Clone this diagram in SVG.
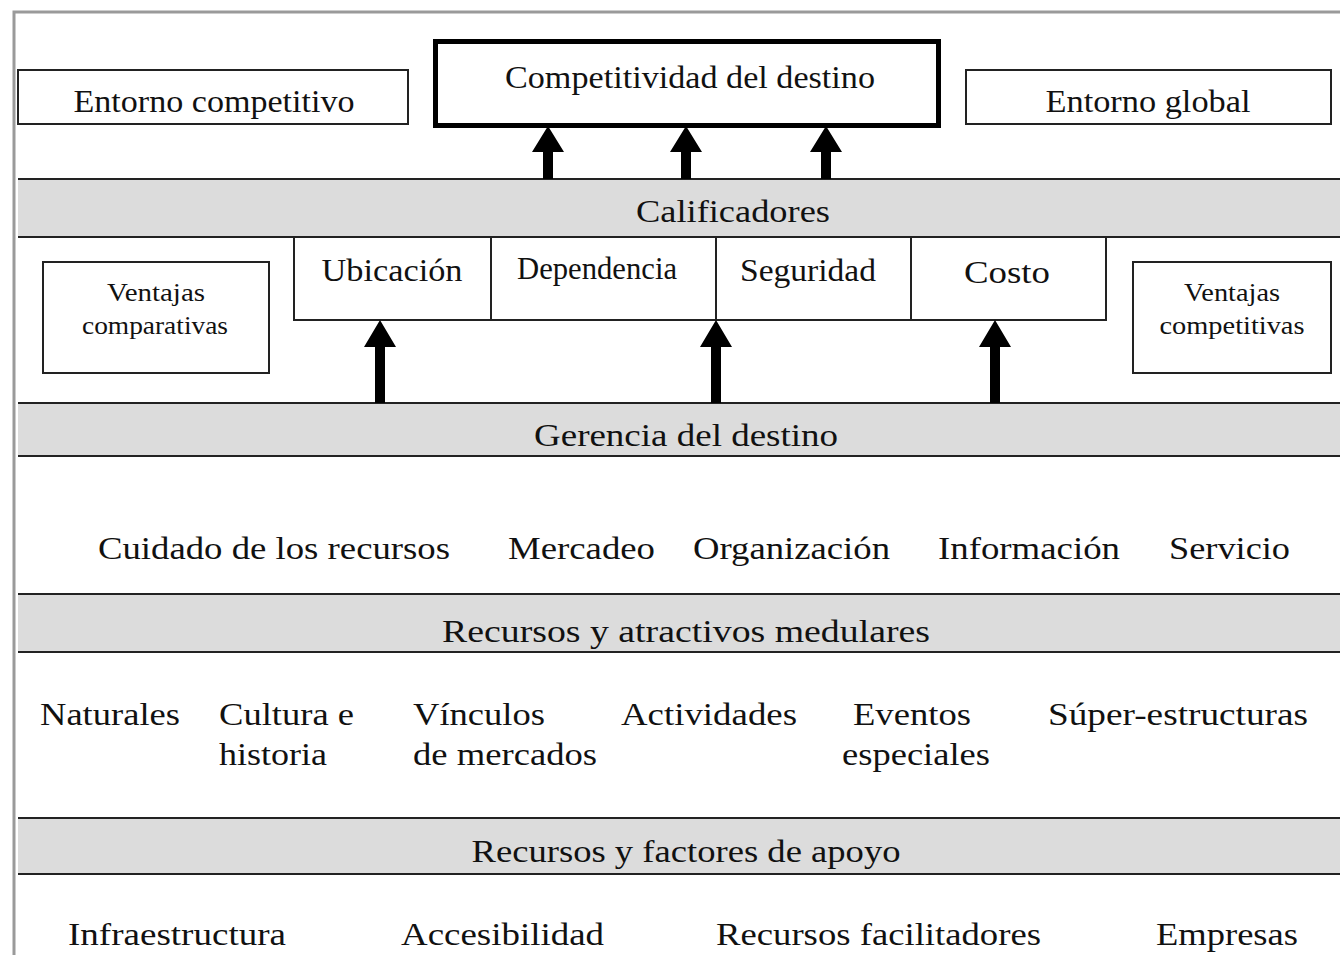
<svg xmlns="http://www.w3.org/2000/svg" width="1340" height="955" viewBox="0 0 1340 955">
<style>
  text { font-family: "Liberation Serif", "Times New Roman", serif; fill: #111; }
  .t { font-size: 32px; }
  .s { font-size: 25px; }
  .box { fill: #fff; stroke: #222; stroke-width: 2; }
  .band { fill: #dcdcdc; }
  .bl { stroke: #222; stroke-width: 2; fill: none; }
  .arrow { fill: #000; }
</style>
<defs>
  <path id="arr" d="M-5,0 V-55 H-16 L0,-83 L16,-55 H5 V0 Z"/>
</defs>
<rect width="1340" height="955" fill="#fff"/>
<!-- outer frame -->
<path d="M14,955 V12 H1340" fill="none" stroke="#9a9a9a" stroke-width="3"/>

<!-- bands -->
<g id="band-calificadores">
  <rect class="band" x="18" y="179" width="1322" height="58"/>
  <line class="bl" x1="18" y1="179" x2="1340" y2="179"/>
  <line class="bl" x1="18" y1="237" x2="1340" y2="237"/>
  <text class="t" x="733" y="222" text-anchor="middle" textLength="194" lengthAdjust="spacingAndGlyphs">Calificadores</text>
</g>
<g id="band-gerencia">
  <rect class="band" x="18" y="403" width="1322" height="53"/>
  <line class="bl" x1="18" y1="403" x2="1340" y2="403"/>
  <line class="bl" x1="18" y1="456" x2="1340" y2="456"/>
  <text class="t" x="686" y="446" text-anchor="middle" textLength="304" lengthAdjust="spacingAndGlyphs">Gerencia del destino</text>
</g>
<g id="band-medulares">
  <rect class="band" x="18" y="594" width="1322" height="58"/>
  <line class="bl" x1="18" y1="594" x2="1340" y2="594"/>
  <line class="bl" x1="18" y1="652" x2="1340" y2="652"/>
  <text class="t" x="686" y="642" text-anchor="middle" textLength="488" lengthAdjust="spacingAndGlyphs">Recursos  y atractivos medulares</text>
</g>
<g id="band-apoyo">
  <rect class="band" x="18" y="818" width="1322" height="56"/>
  <line class="bl" x1="18" y1="818" x2="1340" y2="818"/>
  <line class="bl" x1="18" y1="874" x2="1340" y2="874"/>
  <text class="t" x="686" y="862" text-anchor="middle" textLength="429" lengthAdjust="spacingAndGlyphs">Recursos y factores de apoyo</text>
</g>

<!-- top boxes -->
<g id="entorno-competitivo">
  <rect class="box" x="18" y="70" width="390" height="54"/>
  <text class="t" x="214" y="112" text-anchor="middle" textLength="281" lengthAdjust="spacingAndGlyphs">Entorno competitivo</text>
</g>
<g id="competitividad">
  <rect x="435.5" y="41.5" width="503" height="84" fill="#fff" stroke="#000" stroke-width="5"/>
  <text class="t" x="690" y="88" text-anchor="middle" textLength="370" lengthAdjust="spacingAndGlyphs">Competitividad del destino</text>
</g>
<g id="entorno-global">
  <rect class="box" x="966" y="70" width="365" height="54"/>
  <text class="t" x="1148" y="112" text-anchor="middle" textLength="205" lengthAdjust="spacingAndGlyphs">Entorno global</text>
</g>

<!-- qualifiers -->
<g id="ubicacion">
  <rect class="box" x="294" y="237" width="197" height="83"/>
  <text class="t" x="392" y="281" text-anchor="middle" textLength="141" lengthAdjust="spacingAndGlyphs">Ubicación</text>
</g>
<g id="dependencia">
  <rect class="box" x="491" y="237" width="225" height="83"/>
  <text class="t" x="597" y="279" text-anchor="middle" textLength="160" lengthAdjust="spacingAndGlyphs">Dependencia</text>
</g>
<g id="seguridad">
  <rect class="box" x="716" y="237" width="195" height="83"/>
  <text class="t" x="808" y="281" text-anchor="middle" textLength="136" lengthAdjust="spacingAndGlyphs">Seguridad</text>
</g>
<g id="costo">
  <rect class="box" x="911" y="237" width="195" height="83"/>
  <text class="t" x="1007" y="283" text-anchor="middle" textLength="86" lengthAdjust="spacingAndGlyphs">Costo</text>
</g>
<g id="ventajas-comparativas">
  <rect class="box" x="43" y="262" width="226" height="111"/>
  <text class="s" x="156" y="301" text-anchor="middle" textLength="98" lengthAdjust="spacingAndGlyphs">Ventajas</text>
  <text class="s" x="155" y="334" text-anchor="middle" textLength="146" lengthAdjust="spacingAndGlyphs">comparativas</text>
</g>
<g id="ventajas-competitivas">
  <rect class="box" x="1133" y="262" width="198" height="111"/>
  <text class="s" x="1232" y="301" text-anchor="middle" textLength="96" lengthAdjust="spacingAndGlyphs">Ventajas</text>
  <text class="s" x="1232" y="334" text-anchor="middle" textLength="145" lengthAdjust="spacingAndGlyphs">competitivas</text>
</g>

<!-- gerencia items -->
<g id="gerencia-items">
  <text class="t" x="98" y="559" textLength="352" lengthAdjust="spacingAndGlyphs">Cuidado de los recursos</text>
  <text class="t" x="508" y="559" textLength="147" lengthAdjust="spacingAndGlyphs">Mercadeo</text>
  <text class="t" x="693" y="559" textLength="197" lengthAdjust="spacingAndGlyphs">Organización</text>
  <text class="t" x="938" y="559" textLength="182" lengthAdjust="spacingAndGlyphs">Información</text>
  <text class="t" x="1169" y="559" textLength="121" lengthAdjust="spacingAndGlyphs">Servicio</text>
</g>

<!-- medulares items -->
<g id="medulares-items">
  <text class="t" x="40" y="725" textLength="140" lengthAdjust="spacingAndGlyphs">Naturales</text>
  <text class="t" x="219" y="725" textLength="135" lengthAdjust="spacingAndGlyphs">Cultura e</text>
  <text class="t" x="219" y="765" textLength="108" lengthAdjust="spacingAndGlyphs">historia</text>
  <text class="t" x="413" y="725" textLength="132" lengthAdjust="spacingAndGlyphs">Vínculos</text>
  <text class="t" x="413" y="765" textLength="184" lengthAdjust="spacingAndGlyphs">de mercados</text>
  <text class="t" x="621" y="725" textLength="176" lengthAdjust="spacingAndGlyphs">Actividades</text>
  <text class="t" x="853" y="725" textLength="118" lengthAdjust="spacingAndGlyphs">Eventos</text>
  <text class="t" x="842" y="765" textLength="148" lengthAdjust="spacingAndGlyphs">especiales</text>
  <text class="t" x="1048" y="725" textLength="260" lengthAdjust="spacingAndGlyphs">Súper-estructuras</text>
</g>

<!-- apoyo items -->
<g id="apoyo-items">
  <text class="t" x="68" y="945" textLength="218" lengthAdjust="spacingAndGlyphs">Infraestructura</text>
  <text class="t" x="401" y="945" textLength="203" lengthAdjust="spacingAndGlyphs">Accesibilidad</text>
  <text class="t" x="716" y="945" textLength="325" lengthAdjust="spacingAndGlyphs">Recursos facilitadores</text>
  <text class="t" x="1156" y="945" textLength="142" lengthAdjust="spacingAndGlyphs">Empresas</text>
</g>

<!-- connectors -->
<g id="connectors" class="arrow">
  <path d="M543,179 V152 H532 L548,126 L564,152 H553 V179 Z"/>
  <path d="M681,179 V152 H670 L686,126 L702,152 H691 V179 Z"/>
  <path d="M821,179 V152 H810 L826,126 L842,152 H831 V179 Z"/>
  <path d="M375,403 V347 H364 L380,320 L396,347 H385 V403 Z"/>
  <path d="M711,403 V347 H700 L716,320 L732,347 H721 V403 Z"/>
  <path d="M990,403 V347 H979 L995,320 L1011,347 H1000 V403 Z"/>
</g>
</svg>
